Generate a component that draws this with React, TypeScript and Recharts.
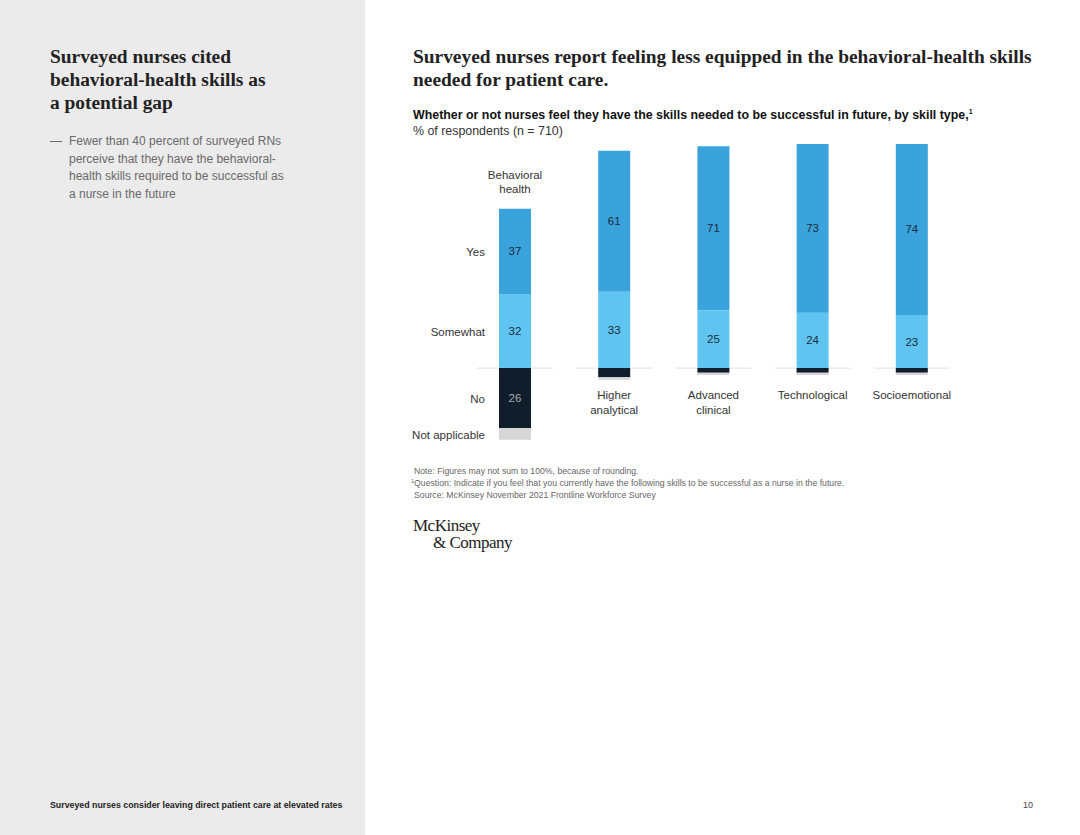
import React from 'react'
import { BarChart, Bar, XAxis, YAxis, LabelList } from 'recharts'

const categories = ['Behavioral health', 'Higher analytical', 'Advanced clinical', 'Technological', 'Socioemotional']
const yesValues = [37, 61, 71, 73, 74]
const somewhatValues = [32, 33, 25, 24, 23]
const noValues = [26, 4, 2, 2, 2]
const naValues = [5, 1, 1, 1, 1]
const rowLabels = ['Yes', 'Somewhat', 'No', 'Not applicable']

const data = categories.map((name, i) => ({
  name,
  yes: yesValues[i],
  somewhat: somewhatValues[i],
  no: -noValues[i],
  na: -naValues[i],
}))

const SANS = '"Liberation Sans", Arial, sans-serif'
const SERIF = '"Liberation Serif", "Times New Roman", serif'

const BLUE = '#3aa3dc'
const LIGHT_BLUE = '#5fc4f0'
const NAVY = '#101d2b'
const GREY = '#d6d6d6'

function SomewhatShape(props: any) {
  const { x, y, width, height, fill } = props
  const cx = x + width / 2
  const base = y + height
  return (
    <g>
      <line x1={cx - 38} x2={cx + 38} y1={base} y2={base} stroke="#e2e2e2" strokeWidth={1} />
      <rect x={x} y={y} width={width} height={height} fill={fill} />
    </g>
  )
}

function makeLabel(rowIndex: number, textColor: string, minValue: number) {
  return (props: any) => {
    const { x, y, width, height, value, index } = props
    const v = Math.abs(Number(value))
    const cx = x + width / 2
    const top = Math.min(y, y + height)
    const cy = top + Math.abs(height) / 2
    const parts: React.ReactNode[] = []
    if (v >= minValue) {
      parts.push(
        <text key="v" x={cx} y={cy} dy={4} textAnchor="middle" fontSize={11.5} fill={textColor} fontFamily={SANS}>
          {v}
        </text>
      )
    }
    if (index === 0) {
      parts.push(
        <text key="r" x={x - 14} y={cy} dy={5} textAnchor="end" fontSize={11.5} fill="#333" fontFamily={SANS}>
          {rowLabels[rowIndex]}
        </text>
      )
      if (rowIndex === 0) {
        const words = categories[0].split(' ')
        parts.push(
          <text key="c" x={cx} y={top - 30} textAnchor="middle" fontSize={11.5} fill="#333" fontFamily={SANS}>
            <tspan x={cx}>{words[0]}</tspan>
            <tspan x={cx} dy={14}>{words[1]}</tspan>
          </text>
        )
      }
    }
    if (rowIndex === 1 && index > 0) {
      const words = categories[index].split(' ')
      const base = top + Math.abs(height)
      parts.push(
        <text key="c" x={cx} y={base + 31} textAnchor="middle" fontSize={11.5} fill="#333" fontFamily={SANS}>
          {words.map((w, i) => (
            <tspan key={i} x={cx} dy={i === 0 ? 0 : 14.5}>{w}</tspan>
          ))}
        </text>
      )
    }
    return <g>{parts}</g>
  }
}

export default function App() {
  return (
    <div style={{ position: 'absolute', left: 0, top: 0, width: 1080, height: 835, background: '#fff', overflow: 'hidden', fontFamily: SANS }}>
      <div style={{ position: 'absolute', left: 0, top: 0, width: 365, height: 835, background: '#ebebeb' }} />

      <div style={{ position: 'absolute', left: 50, top: 45, width: 300, fontFamily: SERIF, fontWeight: 700, fontSize: 19.4, lineHeight: '23px', color: '#222' }}>
        Surveyed nurses cited<br />behavioral-health skills as<br />a potential gap
      </div>
      <div style={{ position: 'absolute', left: 50, top: 133, fontSize: 12, color: '#6a6a6a', lineHeight: '17.5px' }}>
        <span style={{ position: 'absolute', left: 0 }}>—</span>
        <div style={{ marginLeft: 19, width: 240 }}>
          Fewer than 40 percent of surveyed RNs<br />perceive that they have the behavioral-<br />health skills required to be successful as<br />a nurse in the future
        </div>
      </div>
      <div style={{ position: 'absolute', left: 50, top: 800, fontSize: 8.8, fontWeight: 700, color: '#222' }}>
        Surveyed nurses consider leaving direct patient care at elevated rates
      </div>
      <div style={{ position: 'absolute', left: 1023, top: 800, fontSize: 9, color: '#444' }}>10</div>

      <div style={{ position: 'absolute', left: 413, top: 45, width: 660, fontFamily: SERIF, fontWeight: 700, fontSize: 19.4, lineHeight: '23px', color: '#222' }}>
        Surveyed nurses report feeling less equipped in the behavioral-health skills<br />needed for patient care.
      </div>
      <div style={{ position: 'absolute', left: 413, top: 108, fontSize: 12.4, fontWeight: 700, color: '#111', whiteSpace: 'nowrap' }}>
        Whether or not nurses feel they have the skills needed to be successful in future, by skill type,
        <span style={{ fontSize: 7, position: 'relative', top: -5 }}>1</span>
      </div>
      <div style={{ position: 'absolute', left: 413, top: 124, fontSize: 12.4, color: '#333' }}>% of respondents (n = 710)</div>

      <div style={{ position: 'absolute', left: 400, top: 120 }}>
        <BarChart
          width={600}
          height={340}
          data={data}
          stackOffset="sign"
          barSize={32}
          margin={{ top: 17, right: 39, bottom: 11, left: 65 }}
        >
          <XAxis dataKey="name" hide />
          <YAxis hide domain={[-35, 100]} allowDataOverflow />
          <Bar dataKey="somewhat" stackId="s" fill={LIGHT_BLUE} isAnimationActive={false} shape={<SomewhatShape />}>
            <LabelList dataKey="somewhat" content={makeLabel(1, '#1b2a3a', 0)} />
          </Bar>
          <Bar dataKey="yes" stackId="s" fill={BLUE} isAnimationActive={false}>
            <LabelList dataKey="yes" content={makeLabel(0, '#1b2a3a', 0)} />
          </Bar>
          <Bar dataKey="no" stackId="s" fill={NAVY} isAnimationActive={false}>
            <LabelList dataKey="no" content={makeLabel(2, '#a8adb3', 10)} />
          </Bar>
          <Bar dataKey="na" stackId="s" fill={GREY} isAnimationActive={false}>
            <LabelList dataKey="na" content={makeLabel(3, '#333', 100)} />
          </Bar>
        </BarChart>
      </div>

      <div style={{ position: 'absolute', left: 414, top: 466, fontSize: 8.7, color: '#666', lineHeight: '11.5px', whiteSpace: 'nowrap' }}>
        <div>Note: Figures may not sum to 100%, because of rounding.</div>
        <div style={{ marginLeft: -3 }}>
          <span style={{ fontSize: 5.5, position: 'relative', top: -3 }}>1</span>Question: Indicate if you feel that you currently have the following skills to be successful as a nurse in the future.
        </div>
        <div>Source: McKinsey November 2021 Frontline Workforce Survey</div>
      </div>

      <div style={{ position: 'absolute', left: 413, top: 517, fontFamily: SERIF, fontSize: 17, lineHeight: '17px', color: '#222', letterSpacing: -0.5 }}>
        <div>McKinsey</div>
        <div style={{ marginLeft: 20 }}>&amp; Company</div>
      </div>
    </div>
  )
}
